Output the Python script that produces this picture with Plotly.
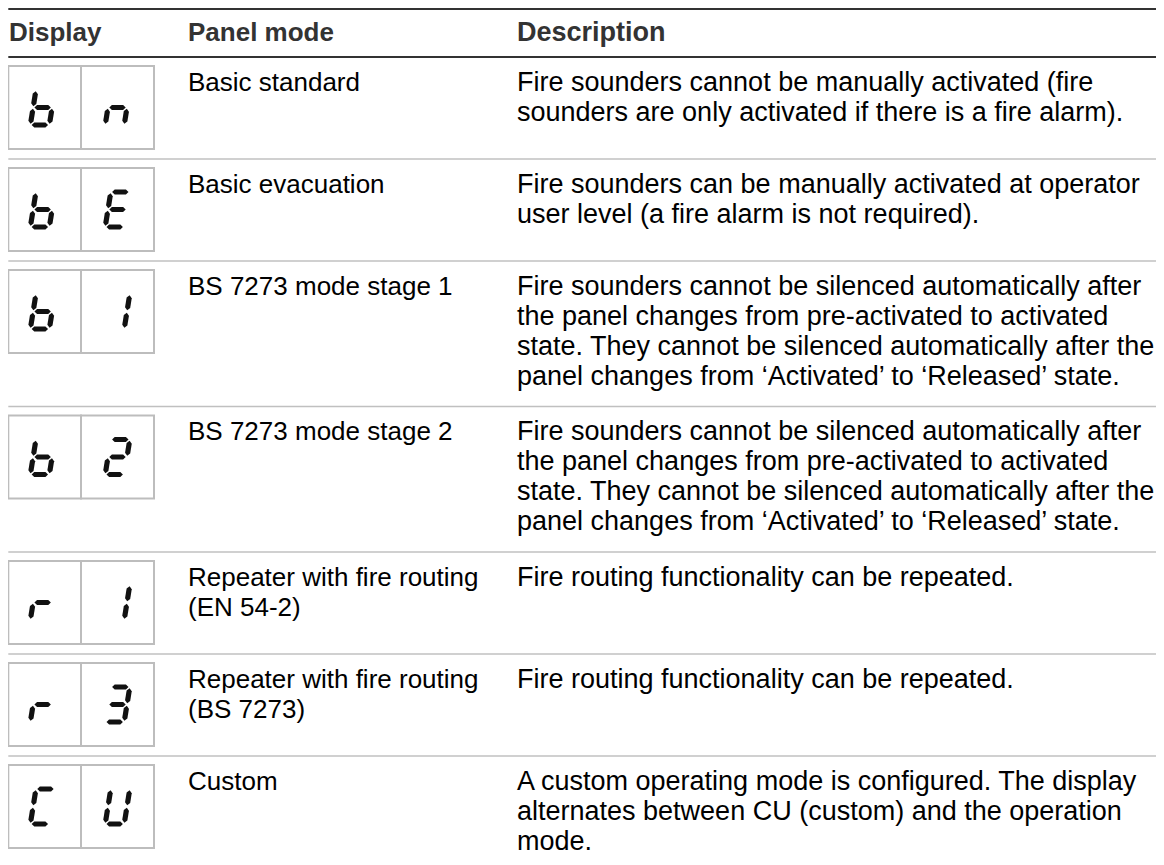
import plotly.graph_objects as go

# ---------------- data ----------------
headers = ["Display", "Panel mode", "Description"]
display_left = ["b", "b", "b", "b", "r", "r", "C"]
display_right = ["n", "E", "1", "2", "1", "3", "U"]
panel_modes = [
    "Basic standard",
    "Basic evacuation",
    "BS 7273 mode stage 1",
    "BS 7273 mode stage 2",
    "Repeater with fire routing\n(EN 54-2)",
    "Repeater with fire routing\n(BS 7273)",
    "Custom",
]
descriptions = [
    "Fire sounders cannot be manually activated (fire\nsounders are only activated if there is a fire alarm).",
    "Fire sounders can be manually activated at operator\nuser level (a fire alarm is not required).",
    "Fire sounders cannot be silenced automatically after\nthe panel changes from pre-activated to activated\nstate. They cannot be silenced automatically after the\npanel changes from \u2018Activated\u2019 to \u2018Released\u2019 state.",
    "Fire sounders cannot be silenced automatically after\nthe panel changes from pre-activated to activated\nstate. They cannot be silenced automatically after the\npanel changes from \u2018Activated\u2019 to \u2018Released\u2019 state.",
    "Fire routing functionality can be repeated.",
    "Fire routing functionality can be repeated.",
    "A custom operating mode is configured. The display\nalternates between CU (custom) and the operation\nmode.",
]
# seven-segment map (a=top, b=upper right, c=lower right, d=bottom, e=lower left, f=upper left, g=middle)
SEGMENTS = {"b": "cdefg", "n": "ceg", "E": "adefg", "1": "bc", "2": "abdeg",
            "r": "eg", "3": "abcdg", "C": "adef", "U": "bcdef"}

# ---------------- layout constants ----------------
W, H = 1164, 865
OFF = 8  # page body margin, so data coords == screen pixels
FONT = "Liberation Sans, Arial, sans-serif"
FS = 26
FS_DESC = 27
LINE = 30
X_LEFT, X_RIGHT = 8.3, 1170
COL_X = [9, 188, 517]
BOX_X = [8.3, 81, 154]
TOP_LINE, HEAD_LINE = 9, 57

shapes = []
annotations = []

def hline(y, color, width):
    shapes.append(dict(type="line", xref="x", yref="y", x0=X_LEFT, x1=X_RIGHT, y0=y, y1=y,
                       line=dict(color=color, width=width), layer="above"))

def text(x, baseline, s, size, bold=False, color="#000000"):
    annotations.append(dict(x=x, xshift=-2, y=baseline - 0.3465 * size, xref="x", yref="y",
                            text=f"<b>{s}</b>" if bold else s,
                            showarrow=False, xanchor="left", yanchor="middle",
                            font=dict(family=FONT, size=size, color=color)))

def seg_poly(p0, p1, t, gap):
    dx, dy = p1[0] - p0[0], p1[1] - p0[1]
    L = (dx * dx + dy * dy) ** 0.5
    ux, uy = dx / L, dy / L
    nx, ny = -uy, ux
    a = (p0[0] + ux * gap, p0[1] + uy * gap)
    b = (p1[0] - ux * gap, p1[1] - uy * gap)
    h = t / 2
    pts = [a,
           (a[0] + ux * h + nx * h, a[1] + uy * h + ny * h),
           (b[0] - ux * h + nx * h, b[1] - uy * h + ny * h),
           b,
           (b[0] - ux * h - nx * h, b[1] - uy * h - ny * h),
           (a[0] + ux * h - nx * h, a[1] + uy * h - ny * h)]
    return "M " + " L ".join(f"{px:.2f},{py:.2f}" for px, py in pts) + " Z"

def digit(ch, cx, cy, w=19, h=35, t=5.2, gap=1.3, k=0.16, color="#111111"):
    def P(x, y):
        return (x + k * (cy - y), y)
    l, r = cx - w / 2, cx + w / 2
    top, mid, bot = cy - h / 2, cy, cy + h / 2
    ends = {
        "a": (P(l, top), P(r, top)),
        "b": (P(r, top), P(r, mid)),
        "c": (P(r, mid), P(r, bot)),
        "d": (P(l, bot), P(r, bot)),
        "e": (P(l, mid), P(l, bot)),
        "f": (P(l, top), P(l, mid)),
        "g": (P(l, mid), P(r, mid)),
    }
    for s in SEGMENTS[ch]:
        p0, p1 = ends[s]
        shapes.append(dict(type="path", xref="x", yref="y", path=seg_poly(p0, p1, t, gap),
                           fillcolor=color, line=dict(width=0), layer="above"))

# header
hline(TOP_LINE, "#333333", 2.2)
hline(HEAD_LINE, "#333333", 2.2)
for hx, ht in zip(COL_X, headers):
    text(hx, 41, ht, FS_DESC if hx == COL_X[2] else FS, bold=True, color="#333333")

# rows
sep = HEAD_LINE
for i in range(len(panel_modes)):
    pm_lines = panel_modes[i].split("\n")
    ds_lines = descriptions[i].split("\n")
    n = max(len(pm_lines), len(ds_lines))
    row_h = max(102, 55.5 + LINE * (n - 1))
    for j, s in enumerate(pm_lines):
        text(COL_X[1], sep + 34 + LINE * j, s, FS)
    for j, s in enumerate(ds_lines):
        text(COL_X[2], sep + 34 + LINE * j, s, FS_DESC)
    btop = sep + 9
    bbot = btop + 83
    for bx0, bx1 in ((BOX_X[0], BOX_X[1]), (BOX_X[1], BOX_X[2])):
        shapes.append(dict(type="rect", xref="x", yref="y", x0=bx0, x1=bx1, y0=btop, y1=bbot,
                           line=dict(color="#bdbdbd", width=2), fillcolor="rgba(0,0,0,0)"))
    cy = (btop + bbot) / 2
    digit(display_left[i], (BOX_X[0] + BOX_X[1]) / 2 - 2, cy)
    digit(display_right[i], (BOX_X[1] + BOX_X[2]) / 2, cy)
    sep = sep + row_h
    if i < len(panel_modes) - 1:
        hline(sep, "#c0c0c0", 1.6)

fig = go.Figure()
fig.add_trace(go.Scatter(x=[OFF, W + OFF], y=[OFF, H + OFF], mode="markers", marker=dict(opacity=0),
                         hoverinfo="skip", showlegend=False))
fig.update_layout(
    width=W, height=H,
    margin=dict(l=0, r=0, t=0, b=0),
    paper_bgcolor="white", plot_bgcolor="white",
    xaxis=dict(range=[OFF, W + OFF], visible=False, fixedrange=True),
    yaxis=dict(range=[H + OFF, OFF], visible=False, fixedrange=True),
    shapes=shapes, annotations=annotations, showlegend=False,
)
fig.write_html("out.html")
